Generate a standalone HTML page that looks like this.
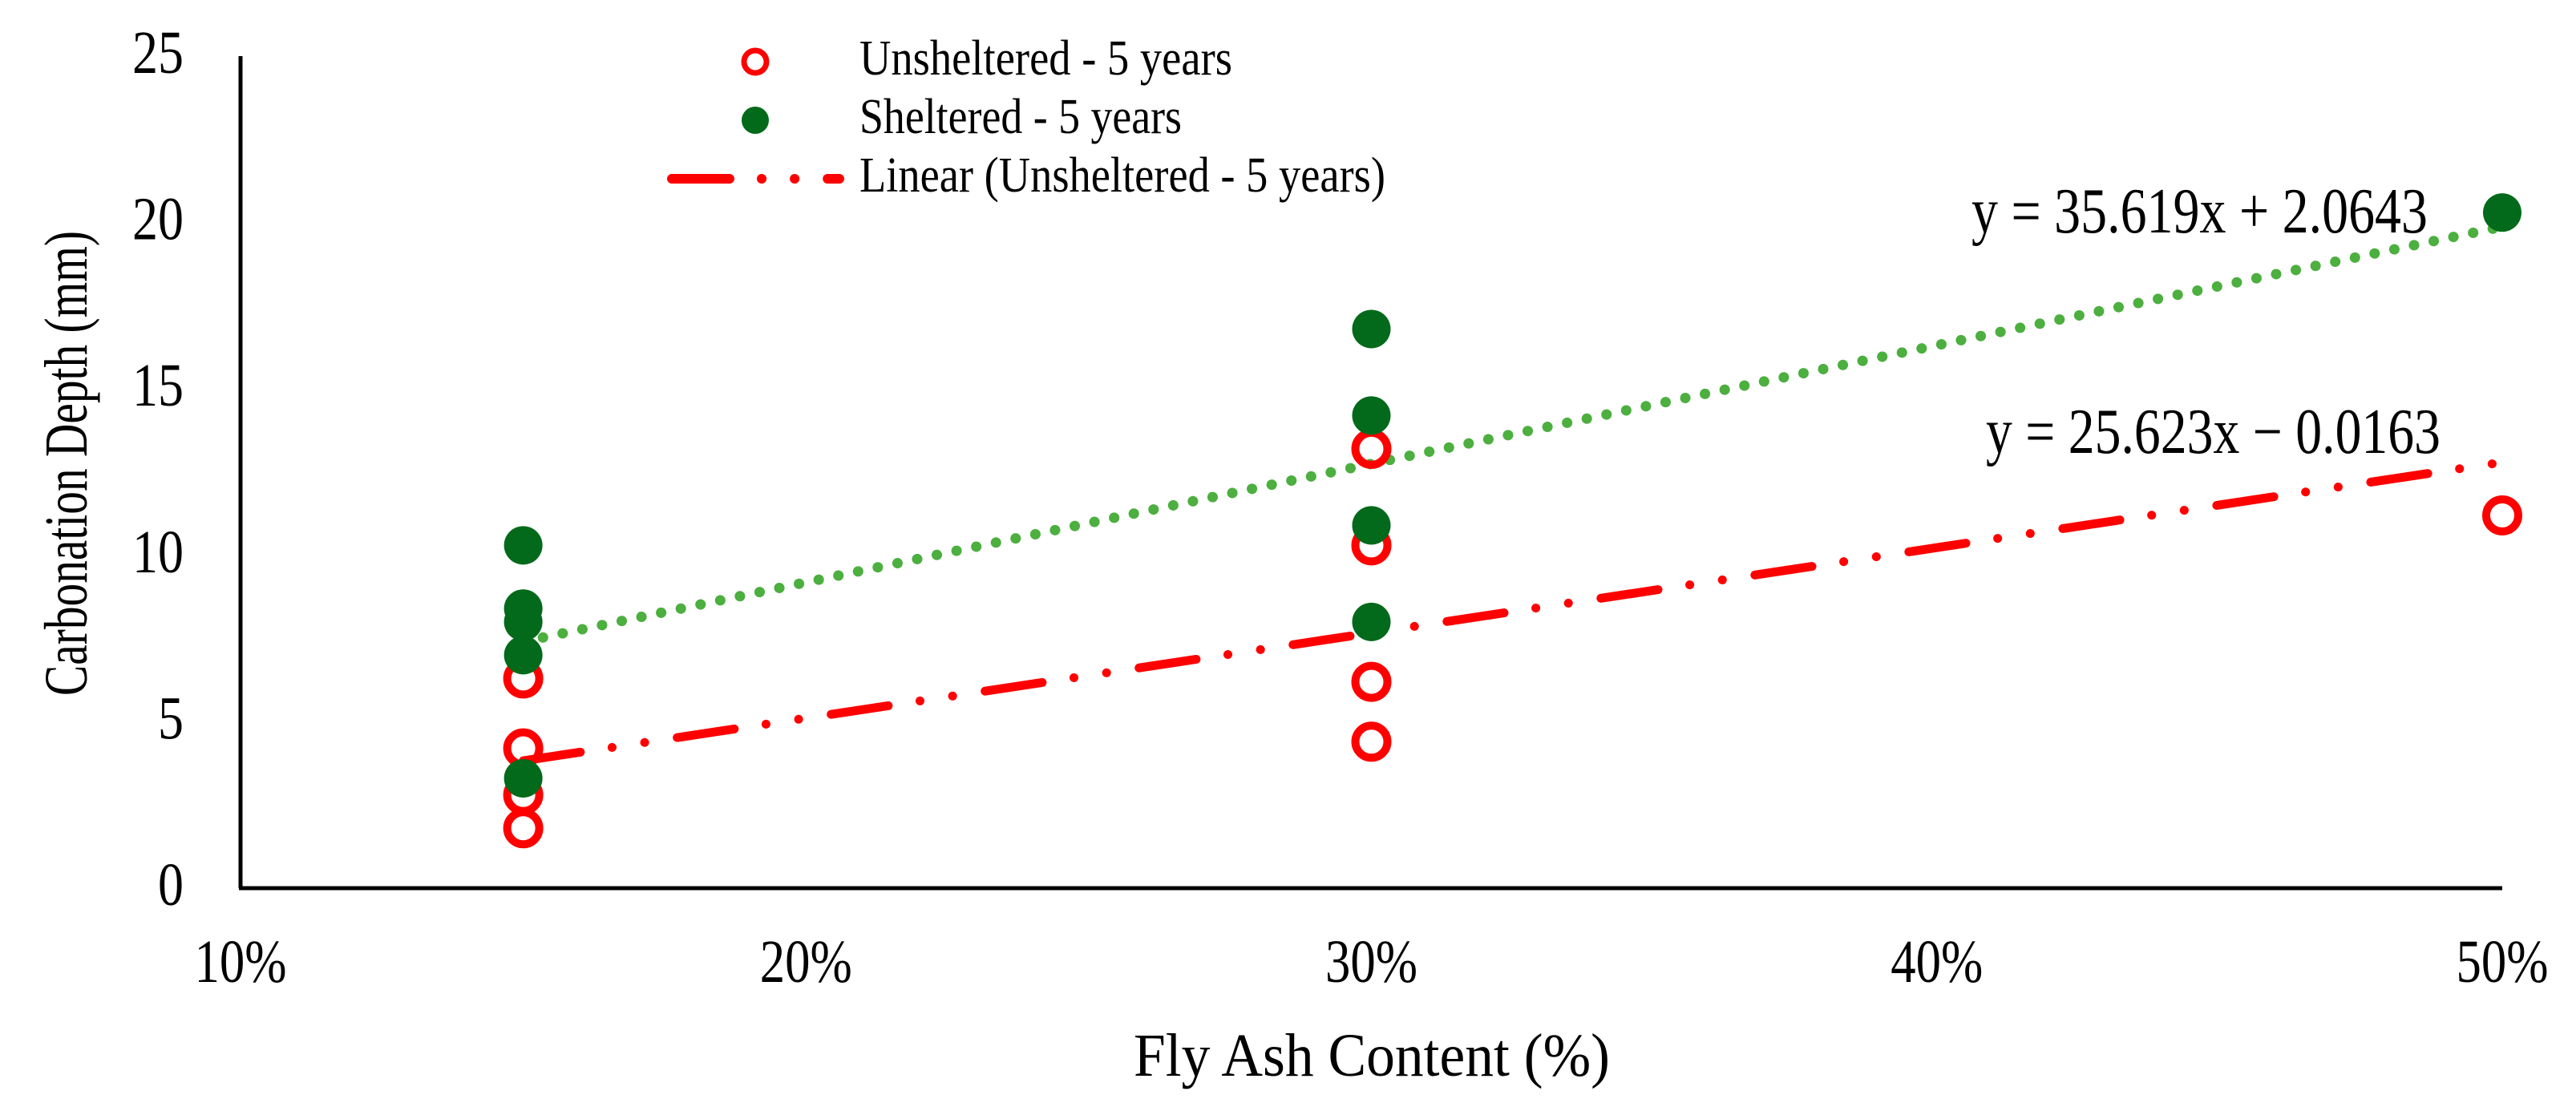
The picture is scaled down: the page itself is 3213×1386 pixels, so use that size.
<!DOCTYPE html>
<html><head><meta charset="utf-8"><style>
html,body{margin:0;padding:0;background:#fff;}
svg{display:block;font-family:"Liberation Serif",serif;}
</style></head><body>
<svg id="chart" width="3213" height="1386" viewBox="0 0 3213 1386">
<g id="ticks"></g>
<g id="trends"></g>
<g id="points"></g>
<line x1="300" y1="70" x2="300" y2="1108" stroke="#000" stroke-width="5"/>
<line x1="298" y1="1108" x2="3121" y2="1108" stroke="#000" stroke-width="5"/>
<text x="1711" y="1342" font-size="76" text-anchor="middle" textLength="594" lengthAdjust="spacingAndGlyphs">Fly Ash Content (%)</text>
<text transform="translate(108,578) rotate(-90)" font-size="76" text-anchor="middle" textLength="580" lengthAdjust="spacingAndGlyphs">Carbonation Depth (mm)</text>
<g>
<g>
<circle cx="942" cy="77" r="14" fill="none" stroke="#ff0000" stroke-width="7"/>
<text x="1072" y="93" font-size="62" textLength="465" lengthAdjust="spacingAndGlyphs">Unsheltered - 5 years</text></g>
<g>
<circle cx="942" cy="150" r="17" fill="#026a1a"/>
<text x="1072" y="166" font-size="62" textLength="402" lengthAdjust="spacingAndGlyphs">Sheltered - 5 years</text></g>
<g>
<line x1="838" y1="223" x2="1047" y2="223" stroke="#ff0000" stroke-width="12" stroke-linecap="round" stroke-dasharray="72 40 0.1 41 0.1 41"/>
<text x="1072" y="239" font-size="62" textLength="656" lengthAdjust="spacingAndGlyphs">Linear (Unsheltered - 5 years)</text></g>
</g>
<text x="2459" y="290" font-size="80" textLength="569" lengthAdjust="spacingAndGlyphs">y = 35.619x + 2.0643</text>
<text x="2477" y="565" font-size="80" textLength="567" lengthAdjust="spacingAndGlyphs">y = 25.623x − 0.0163</text>
</svg>
<script>
const xTicks=[0.1,0.2,0.3,0.4,0.5];
const xTickLabels=["10%","20%","30%","40%","50%"];
const yTicks=[0,5,10,15,20,25];
const unshelteredX=[0.15,0.15,0.15,0.15,0.3,0.3,0.3,0.3,0.5];
const unshelteredY=[6.3,4.2,2.8,1.8,13.2,10.3,6.2,4.4,11.2];
const shelteredX=[0.15,0.15,0.15,0.15,0.15,0.3,0.3,0.3,0.3,0.5];
const shelteredY=[10.3,8.4,8.0,7.0,3.3,16.8,14.2,10.9,8.0,20.3];
const trendSlopes=[35.619,25.623];
const trendIntercepts=[2.0643,-0.0163];
const trendRange=[0.15,0.5];

const NS="http://www.w3.org/2000/svg";
const X0=300,X1=3121,Y0=1108,Y1=70;
function sx(v){return X0+(v-0.1)/(0.5-0.1)*(X1-X0);}
function sy(v){return Y0-(v-0)/(25-0)*(Y0-Y1);}
function mk(tag,attrs,parent){const e=document.createElementNS(NS,tag);for(const k in attrs)e.setAttribute(k,attrs[k]);parent.appendChild(e);return e;}

const tg=document.getElementById('ticks');
xTicks.forEach((t,i)=>{
 const e=mk('text',{x:sx(t),y:1225,'font-size':76,'text-anchor':'middle',textLength:115,lengthAdjust:'spacingAndGlyphs'},tg);
 e.textContent=xTickLabels[i];
 
 
});
yTicks.forEach(t=>{
 const s=String(t);
 const e=mk('text',{x:229,y:sy(t)+21,'font-size':76,'text-anchor':'end',textLength:32*s.length,lengthAdjust:'spacingAndGlyphs'},tg);
 e.textContent=s;
 
 
});

const tr=document.getElementById('trends');
const styles=[{stroke:'#4caf3f',w:13,dash:'0.1 25'},{stroke:'#ff0000',w:11,dash:'72 40 0.1 41 0.1 41'}];
const tnames=['trendline-sheltered','trendline-unsheltered'];
trendSlopes.forEach((m,i)=>{
 const a=trendRange[0],b=trendRange[1];
 const l=mk('line',{x1:sx(a),y1:sy(m*a+trendIntercepts[i]),x2:sx(b),y2:sy(m*b+trendIntercepts[i]),stroke:styles[i].stroke,'stroke-width':styles[i].w,'stroke-linecap':'round','stroke-dasharray':styles[i].dash},tr);
 
 
});

const pg=document.getElementById('points');
unshelteredX.forEach((x,i)=>{
 const c=mk('circle',{cx:sx(x),cy:sy(unshelteredY[i]),r:20,fill:'none',stroke:'#ff0000','stroke-width':10},pg);
 
 
});
shelteredX.forEach((x,i)=>{
 const c=mk('circle',{cx:sx(x),cy:sy(shelteredY[i]),r:24,fill:'#026a1a'},pg);
 
 
});
</script>
</body></html>
